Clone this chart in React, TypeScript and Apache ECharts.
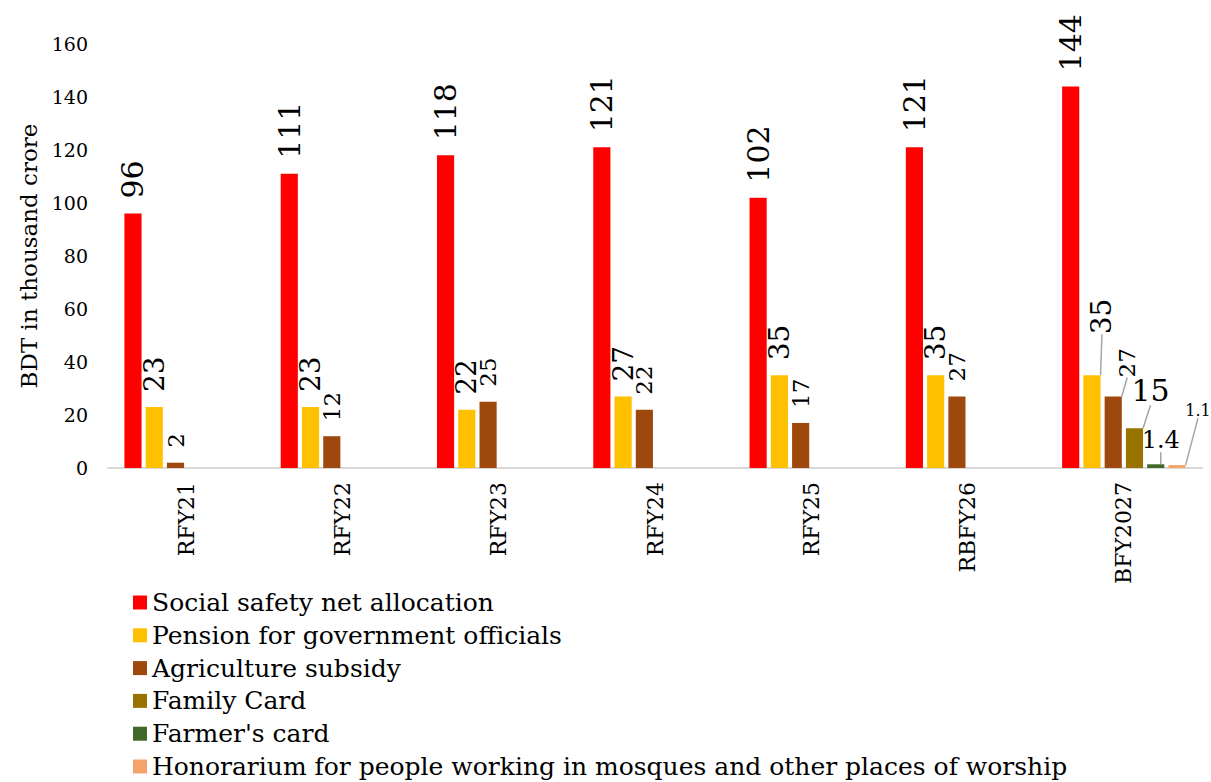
import React, { useEffect, useRef } from "react";
import * as echarts from "echarts";

const categories = ["RFY21", "RFY22", "RFY23", "RFY24", "RFY25", "RBFY26", "BFY2027"];
const seriesNames = [
  "Social safety net allocation",
  "Pension for government officials",
  "Agriculture subsidy",
  "Family Card",
  "Farmer's card",
  "Honorarium for people working in mosques and other places of worship",
];
const socialSafetyNet = [96, 111, 118, 121, 102, 121, 144];
const pension = [23, 23, 22, 27, 35, 35, 35];
const agriculture = [2, 12, 25, 22, 17, 27, 27];
const familyCard = [null, null, null, null, null, null, 15];
const farmersCard = [null, null, null, null, null, null, 1.4];
const honorarium = [null, null, null, null, null, null, 1.1];
const yTicks = { min: 0, max: 160, interval: 20 };

const colors = ["#FF0000", "#FFC000", "#9E480E", "#997300", "#43682B", "#F4A46A"];
const FONT = "'DejaVu Serif', Georgia, serif";

// label appearance per series: [fontSize, rotate]
const labelStyles: [number, number][] = [
  [30, 90],
  [28, 90],
  [23, 90],
  [30, 0],
  [24, 0],
  [16, 0],
];
// label shifts (label-local frame) for the last category (with leader lines)
const lastShift: [number, number][] = [
  [0, 0],
  [26, 10],
  [4, 14],
  [16, -18],
  [5, -7],
  [21, -42],
];

export default function App() {
  const ref = useRef<HTMLDivElement>(null);
  useEffect(() => {
    document.body.style.margin = "0";
    if (!ref.current) return;
    const chart = echarts.init(ref.current, undefined, { renderer: "svg" });
    const all = [socialSafetyNet, pension, agriculture, familyCard, farmersCard, honorarium];
    const lastIdx = categories.length - 1;
    const series = all.map((vals, si) => {
      const [fs, rot] = labelStyles[si];
      return {
        name: seriesNames[si],
        type: "bar",
        barGap: "24%",
        barCategoryGap: "21%",
        itemStyle: { color: colors[si] },
        label: {
          show: true,
          position: "top",
          distance: rot ? 15 : 5,
          rotate: rot,
          align: rot ? "left" : "center",
          verticalAlign: rot ? "middle" : "bottom",
          fontSize: fs,
          fontFamily: FONT,
          color: "#000",
        },
        labelLine: { show: false, length2: 0, lineStyle: { color: "#A6A6A6", width: 1.5 } },
        labelLayout: (p: any) =>
          p.dataIndex === lastIdx && si > 0
            ? { dx: lastShift[si][0], dy: lastShift[si][1] }
            : {},
        data: vals.map((v, i) =>
          v === null
            ? "-"
            : i === lastIdx && si > 0
            ? { value: v, labelLine: { show: true } }
            : v
        ),
      };
    });
    chart.setOption({
      animation: false,
      textStyle: { fontFamily: FONT },
      grid: { left: 108, right: 9, top: 44, bottom: 314 },
      legend: {
        orient: "vertical",
        left: 133,
        top: 590,
        padding: 0,
        itemWidth: 14,
        itemHeight: 14,
        itemGap: 7.8,
        icon: "rect",
        data: seriesNames,
        textStyle: { fontSize: 25, lineHeight: 25, fontFamily: FONT, color: "#000" },
      },
      xAxis: {
        type: "category",
        data: categories,
        axisTick: { show: false },
        axisLine: { lineStyle: { color: "#D9D9D9", width: 2 } },
        axisLabel: { rotate: 90, margin: 14, fontSize: 22, fontFamily: FONT, color: "#000" },
      },
      yAxis: {
        type: "value",
        min: yTicks.min,
        max: yTicks.max,
        interval: yTicks.interval,
        splitLine: { show: false },
        axisLine: { show: false },
        axisTick: { show: false },
        axisLabel: { margin: 20, fontSize: 19, fontFamily: FONT, color: "#000" },
        name: "BDT in thousand crore",
        nameLocation: "middle",
        nameRotate: 90,
        nameGap: 68,
        nameTextStyle: { fontSize: 23, fontFamily: FONT, color: "#000" },
      },
      series,
    });
    return () => chart.dispose();
  }, []);
  return <div ref={ref} style={{ width: 1211, height: 782 }} />;
}
